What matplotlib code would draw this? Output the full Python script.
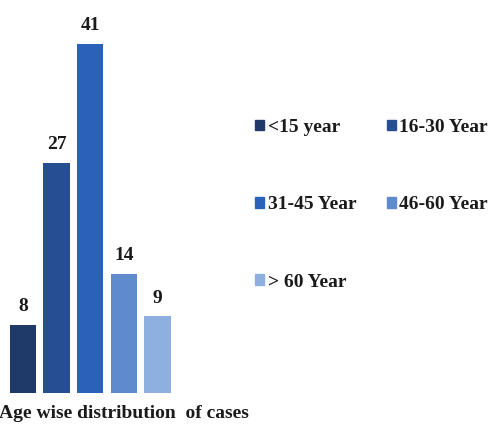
import matplotlib
matplotlib.use("Agg")
import matplotlib.pyplot as plt
from matplotlib.patches import Patch

groups = ["<15 year", "16-30 Year", "31-45 Year", "46-60 Year", "> 60 Year"]
cases = [8, 27, 41, 14, 9]
colors = ["#1f3a68", "#264f91", "#2b61b8", "#5f8acb", "#8eb0e0"]

plt.rcParams["font.family"] = "Liberation Serif"
plt.rcParams["font.weight"] = "bold"

fig = plt.figure(figsize=(4.88, 4.25), dpi=100)
ax = fig.add_axes([6.2 / 488, 32 / 425, 168 / 488, 393 / 425])

x = range(len(cases))
bars = ax.bar(x, cases, width=0.79, color=colors)
for i, v in enumerate(cases):
    ax.annotate(str(v), (i, v), xytext=(0, 10), textcoords="offset points",
                ha="center", va="baseline", fontsize=14, fontweight="bold",
                color="#1a1a1a")

ax.set_xlim(-0.5, 4.5)
ax.set_ylim(0, 46.2)
ax.axis("off")

fig.text(-1 / 488, 7 / 425, "Age wise distribution  of cases", ha="left",
         va="baseline", fontsize=14, fontweight="bold", color="#1a1a1a")

# legend in row order: reorder for column-first filling
handles = [Patch(color=c) for c in colors]
order = [0, 2, 4, 1, 3]
fig.legend([handles[k] for k in order], [groups[k] for k in order],
           ncol=2, loc="upper left", bbox_to_anchor=(255 / 488, 1 - 119 / 425),
           frameon=False, borderpad=0, borderaxespad=0,
           handlelength=0.46, handleheight=0.46, handletextpad=0.2,
           labelspacing=3.1, columnspacing=1.55, labelcolor="#1a1a1a",
           prop={"weight": "bold", "size": 14})

fig.savefig("out.png", dpi=100)
